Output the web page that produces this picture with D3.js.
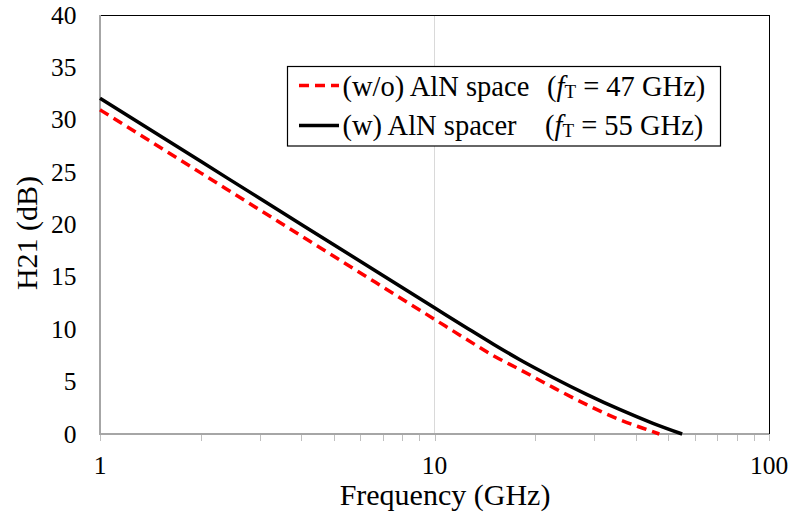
<!DOCTYPE html>
<html>
<head>
<meta charset="utf-8">
<script src="https://cdn.jsdelivr.net/npm/d3@7"></script>
</head>
<body style="margin:0">
<svg id="chart" width="792" height="517"></svg>
<script>
// ---- data ----
const freqWithout = [1, 2, 3, 5, 10, 12.6, 15, 18, 22.6, 28.5, 35.9, 42, 47];
const h21Without  = [30.95, 24.93, 21.4, 16.97, 10.95, 8.95, 7.47, 6.15, 4.45, 2.8, 1.35, 0.55, 0];
const freqWith    = [1, 2, 3, 5, 10, 12.6, 15, 18, 22.6, 28.5, 35.9, 45, 55];
const h21With     = [32.05, 26.03, 22.5, 18.07, 12.05, 10.05, 8.57, 7.09, 5.4, 3.79, 2.32, 1.02, 0];
const xTicks = [1, 10, 100];
const yTicks = [0, 5, 10, 15, 20, 25, 30, 35, 40];
const legendLabels = ["(w/o) AlN space", "(w) AlN spacer"];
const legendFt = ["47", "55"];

const FONT = "Liberation Serif";
const svg = d3.select("#chart").style("display", "block");
const m = { left: 100, right: 769, top: 15, bottom: 434 };
const x = d3.scaleLog().domain([1, 100]).range([m.left, m.right]);
const y = d3.scaleLinear().domain([0, 40]).range([m.bottom, m.top]);

function txt(sel) {
  return sel.attr("font-family", FONT).style("font-family", FONT, "important");
}

// gridline at 10
svg.append("line").attr("x1", x(10)).attr("x2", x(10)).attr("y1", y(40)).attr("y2", y(0))
  .attr("stroke", "#d9d9d9").attr("stroke-width", 1);

// top & right border (black)
svg.append("line").attr("x1", m.left).attr("x2", m.right + 0.5).attr("y1", m.top + 0.5).attr("y2", m.top + 0.5)
  .attr("stroke", "#000").attr("stroke-width", 1);
svg.append("line").attr("x1", m.right + 0.5).attr("x2", m.right + 0.5).attr("y1", m.top).attr("y2", m.bottom)
  .attr("stroke", "#000").attr("stroke-width", 1);

// minor/major ticks below x axis
const tickVals = [];
for (let d = 1; d < 100; d *= 10) for (let k = 1; k <= 9; k++) tickVals.push(d * k);
tickVals.push(100);
svg.append("g").selectAll("line").data(tickVals).join("line")
  .attr("x1", d => Math.round(x(d)) + 0.5).attr("x2", d => Math.round(x(d)) + 0.5)
  .attr("y1", m.bottom).attr("y2", m.bottom + 7)
  .attr("stroke", "#bfbfbf").attr("stroke-width", 1);

// axes lines (grey)
svg.append("line").attr("x1", m.left).attr("x2", m.left).attr("y1", m.top).attr("y2", m.bottom + 1)
  .attr("stroke", "#a6a6a6").attr("stroke-width", 2);
svg.append("line").attr("x1", m.left).attr("x2", m.right).attr("y1", m.bottom).attr("y2", m.bottom)
  .attr("stroke", "#a6a6a6").attr("stroke-width", 2);

// tick labels
txt(svg.append("g").selectAll("text").data(yTicks).join("text"))
  .attr("x", 76.5).attr("y", d => y(d) + 8.5)
  .attr("text-anchor", "end").attr("font-size", 25.5).attr("fill", "#000")
  .text(d => d);
txt(svg.append("g").selectAll("text").data(xTicks).join("text"))
  .attr("x", d => x(d)).attr("y", 474)
  .attr("text-anchor", "middle").attr("font-size", 25.5).attr("fill", "#000")
  .text(d => d);

// axis titles
txt(svg.append("text")).attr("x", 445).attr("y", 505).attr("text-anchor", "middle")
  .attr("font-size", 30).text("Frequency (GHz)");
txt(svg.append("text")).attr("transform", "translate(37,233) rotate(-90)").attr("text-anchor", "middle")
  .attr("font-size", 30).text("H21 (dB)");

// lines
const line = d3.line().x(d => x(d[0])).y(d => y(d[1])).curve(d3.curveMonotoneX);
svg.append("path").datum(d3.zip(freqWithout, h21Without)).attr("d", line)
  .attr("fill", "none").attr("stroke", "#ff0000").attr("stroke-width", 3.5)
  .attr("stroke-dasharray", "10,6");
svg.append("path").datum(d3.zip(freqWith, h21With)).attr("d", line)
  .attr("fill", "none").attr("stroke", "#000").attr("stroke-width", 3.5);

// legend
const lg = svg.append("g");
lg.append("rect").attr("x", 287.5).attr("y", 66.5).attr("width", 433).attr("height", 79.5)
  .attr("fill", "#fff").attr("stroke", "#000").attr("stroke-width", 1.2);
const rows = [
  { base: 96, ly: 85.5, color: "#ff0000", dash: "10,6", label: legendLabels[0], ft: legendFt[0], ftx: 547 },
  { base: 134.5, ly: 125.5, color: "#000", dash: null, label: legendLabels[1], ft: legendFt[1], ftx: 545 }
];
rows.forEach(r => {
  lg.append("line").attr("x1", 299).attr("x2", 339).attr("y1", r.ly).attr("y2", r.ly)
    .attr("stroke", r.color).attr("stroke-width", 3.5).attr("stroke-dasharray", r.dash);
  txt(lg.append("text")).attr("x", 342.5).attr("y", r.base).attr("font-size", 28.5).text(r.label);
  const t = txt(lg.append("text")).attr("x", r.ftx).attr("y", r.base).attr("font-size", 28.5);
  t.append("tspan").text("(");
  t.append("tspan").attr("font-style", "italic").text("f");
  t.append("tspan").attr("font-size", 19).attr("dy", 2).text("T");
  t.append("tspan").attr("dy", -2).text(" = " + r.ft + " GHz)");
});
</script>
</body>
</html>
